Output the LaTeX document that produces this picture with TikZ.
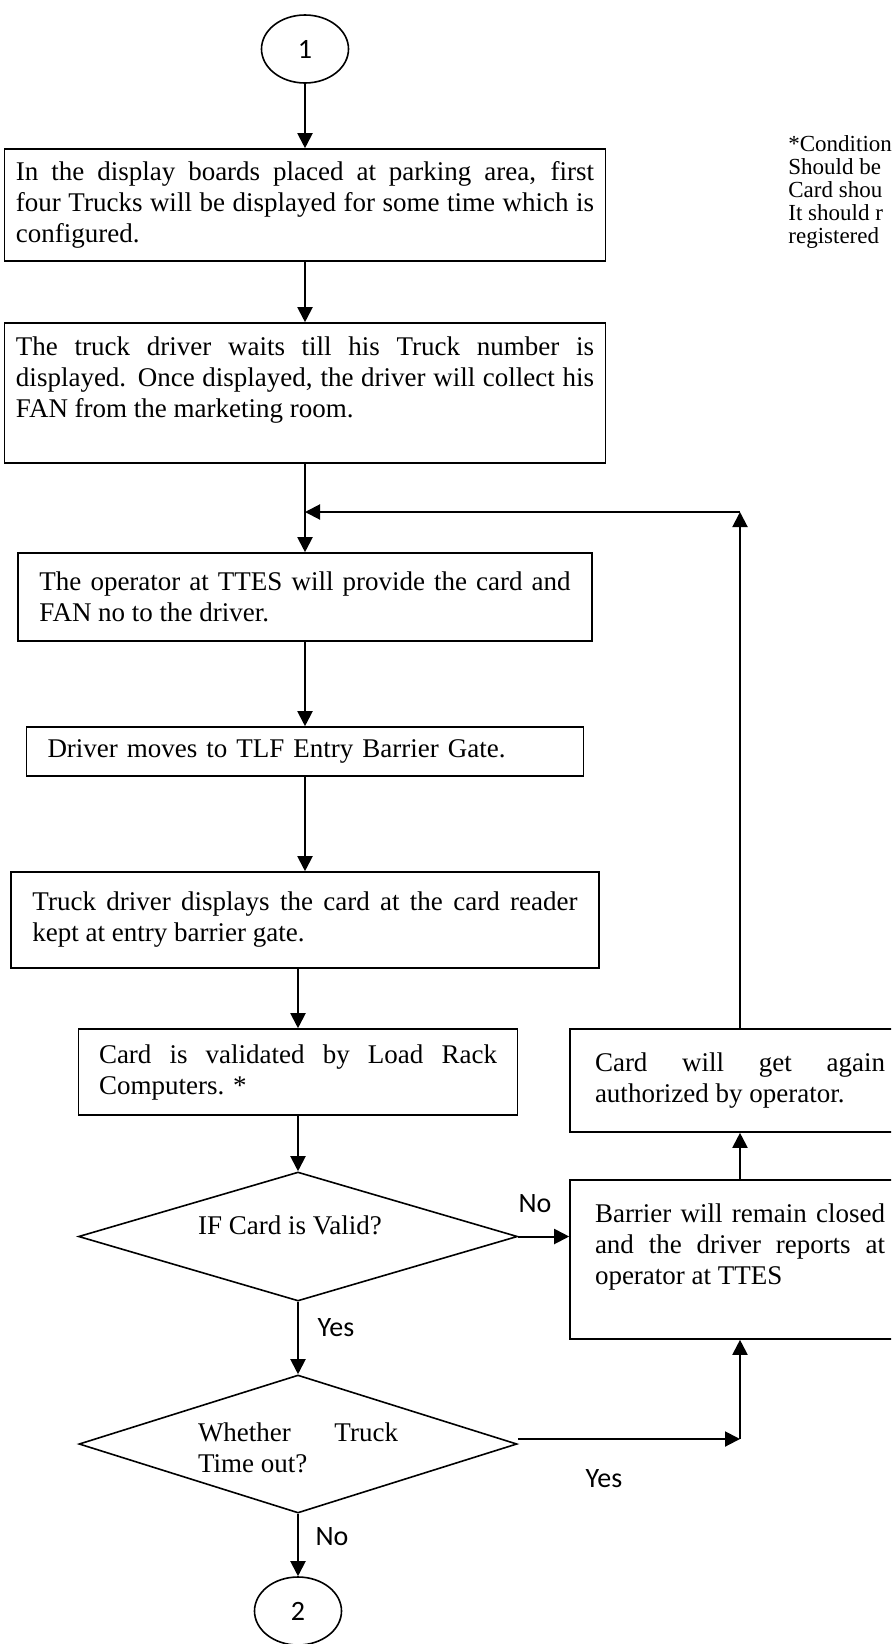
\documentclass[tikz,border=0pt]{standalone}
\usepackage{fontspec}
\setmainfont{Liberation Serif}
\newfontfamily\lblfont{Carlito}
\usetikzlibrary{shapes.geometric,arrows.meta}
\hbadness=10000
\newcommand{\boxsize}{\fontsize{13.5}{15.5}\selectfont}
\newcommand{\lblsize}{\lblfont\fontsize{14}{16}\selectfont}
\tikzset{
	flowbox/.style={draw, line width=0.8pt, rectangle, inner sep=2pt, align=justify, font=\boxsize},
	decision/.style={draw, line width=0.8pt, diamond, inner sep=0pt},
	ovalnode/.style={draw, line width=0.8pt, ellipse, inner sep=0pt, minimum width=43.5pt, minimum height=34pt, font=\lblsize},
	lbl/.style={inner sep=0pt, font=\lblsize},
	arr/.style={line width=1pt, -{Triangle[length=7.5pt,width=7.5pt]}}
}

\begin{document}
\begin{tikzpicture}[x=0.5pt, y=-0.5pt]
		\useasboundingbox (0,0) rectangle (891,1644);
		\clip (0,0) rectangle (891,1644);

		\node[ovalnode] (circ1) at (305,49) {1};

		\node[flowbox, minimum width=300.5pt, minimum height=56pt, text width=289pt] (display) at (305,205) {In the display boards placed at parking area, first\linebreak four Trucks will be displayed for some time which is\linebreak configured.};
		\node[flowbox, minimum width=300.5pt, minimum height=70pt, text width=289pt] (waits) at (305,393) {The truck driver waits till his Truck number is\linebreak displayed. Once displayed, the driver will collect his\linebreak FAN from the marketing room.\par\mbox{}};
		\node[flowbox, minimum width=287pt, minimum height=44pt, text width=265.5pt] (operator) at (305,597) {The operator at TTES will provide the card and\linebreak FAN no to the driver.};
		\node[flowbox, minimum width=278.5pt, minimum height=24.5pt, text width=257.5pt, align=left] (moves) at (305,751.5) {Driver moves to TLF Entry Barrier Gate.};
		\node[flowbox, minimum width=294pt, minimum height=48pt, text width=272.5pt] (displays) at (305,920) {Truck driver displays the card at the card reader\linebreak kept at entry barrier gate.};
		\node[flowbox, minimum width=219.5pt, minimum height=43pt, text width=199pt] (validated) at (298,1072) {Card is validated by Load Rack\linebreak Computers. *};

		%decisions
		\node[decision, minimum width=219.5pt, minimum height=64.5pt] (valid) at (298,1236.5) {};
		\node[font=\boxsize, inner sep=0pt] (validtxt) at ([xshift=-4pt,yshift=5.75pt]valid.center) {IF Card is Valid?};
		\node[decision, minimum width=219pt, minimum height=69pt] (timeout) at (298,1444) {};
		\node[font=\boxsize, inner sep=0pt, text width=100pt, align=justify] (timeouttxt) at ([yshift=-2pt]timeout.center) {Whether Truck\linebreak Time out?};

		\node[ovalnode] (circ2) at (298,1611) {2};

		%loop back
		\node[flowbox, minimum width=170pt, minimum height=51.5pt, text width=145pt] (again) at (740,1080.5) {Card will get again\linebreak authorized by operator.};
		\node[flowbox, minimum width=170pt, minimum height=79.5pt, text width=145pt] (closed) at (740,1259.5) {Barrier will remain closed\linebreak and the driver reports at\linebreak operator at TTES\par\mbox{}};

		\node[font=\fontsize{11.5}{11.6}\selectfont, align=left, anchor=west, inner sep=0pt] (condnote) at (788,192) {*Condition\\Should be\\Card shou\\It should r\\registered};

		\node[lbl] (novalid) at (535,1204) {No};
		\node[lbl] (yesvalid) at (336,1328) {Yes};
		\node[lbl] (yestime) at (604,1479) {Yes};
		\node[lbl] (notime) at (332,1537) {No};

		\coordinate (merge) at (305,512);
		\coordinate (loopcorner) at (740,512);
		\coordinate (timecorner) at (740,1439);

		\foreach \a/\b in {circ1/display, display/waits, waits/operator, operator/moves, moves/displays, valid/timeout, timeout/circ2}{
			\draw[arr] (\a.south) -- (\b.north);
		}
		\draw[arr] (displays.south -| validated.north) -- (validated.north);
		\draw[arr] (validated.south) -- (valid.north);
		\draw[arr] (valid.east) -- (valid.east -| closed.west);
		\draw[arr] ([yshift=2.5pt]timeout.east) -- (timecorner);
		\draw[arr] (timecorner) -- (closed.south);
		\draw[arr] (closed.north) -- (again.south);
		\draw[arr] (again.north) -- (loopcorner);
		\draw[arr] (loopcorner) -- (merge);

	\end{tikzpicture}
\end{document}
